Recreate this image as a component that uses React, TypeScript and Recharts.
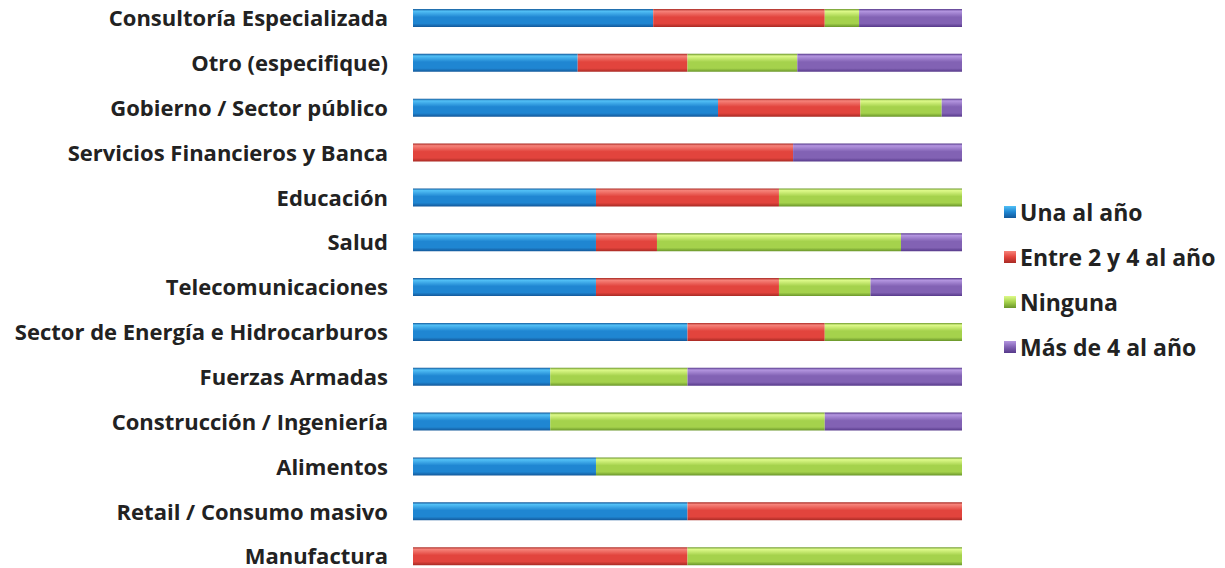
import { BarChart, Bar, XAxis, YAxis, Legend } from 'recharts'

// Sectors, top to bottom
const sectors = [
  'Consultoría Especializada',
  'Otro (especifique)',
  'Gobierno / Sector público',
  'Servicios Financieros y Banca',
  'Educación',
  'Salud',
  'Telecomunicaciones',
  'Sector de Energía e Hidrocarburos',
  'Fuerzas Armadas',
  'Construcción / Ingeniería',
  'Alimentos',
  'Retail / Consumo masivo',
  'Manufactura',
]

// Share of answers per sector (%)
const unaAlAno = [43.75, 30, 55.56, 0, 33.33, 33.33, 33.33, 50, 25, 25, 33.33, 50, 0]
const entre2y4 = [31.25, 20, 25.93, 69.23, 33.33, 11.11, 33.33, 25, 0, 0, 0, 50, 50]
const ninguna = [6.25, 20, 14.81, 0, 33.34, 44.45, 16.67, 25, 25, 50, 66.67, 0, 50]
const masDe4 = [18.75, 30, 3.7, 30.77, 0, 11.11, 16.67, 0, 50, 25, 0, 0, 0]

const series = [
  { key: 'una', name: 'Una al año', values: unaAlAno, top: '#52c0f6', mid: '#1f86d2', bot: '#13589a' },
  { key: 'entre', name: 'Entre 2 y 4 al año', values: entre2y4, top: '#f6837a', mid: '#e2443d', bot: '#a82a24' },
  { key: 'ninguna', name: 'Ninguna', values: ninguna, top: '#defa8a', mid: '#a5d24c', bot: '#69952a' },
  { key: 'mas', name: 'Más de 4 al año', values: masDe4, top: '#b496e0', mid: '#8262b4', bot: '#56398a' },
]

const data = sectors.map((sector, i) => {
  const row: Record<string, string | number> = { sector }
  series.forEach((s) => {
    row[s.key] = s.values[i]
  })
  return row
})

const font = '"Open Sans", sans-serif'

function LegendContent() {
  return (
    <div style={{ fontFamily: font, fontWeight: 700, fontSize: 23, color: '#222', whiteSpace: 'nowrap' }}>
      {series.map((s) => (
        <div key={s.key} style={{ display: 'flex', alignItems: 'center', height: 45 }}>
          <span
            style={{
              width: 12,
              height: 12,
              marginRight: 4,
              flexShrink: 0,
              background: `linear-gradient(${s.top}, ${s.mid} 50%, ${s.bot})`,
            }}
          />
          {s.name}
        </div>
      ))}
    </div>
  )
}

export default function App() {
  return (
    <div style={{ position: 'absolute', left: 0, top: -5, background: '#fff' }}>
      <BarChart
        width={1225}
        height={590}
        data={data}
        layout="vertical"
        margin={{ top: 1, right: 42, left: 0, bottom: 6 }}
        barSize={18}
      >
        <defs>
          {series.map((s) => (
            <linearGradient key={s.key} id={`grad-${s.key}`} x1="0" y1="0" x2="0" y2="1">
              <stop offset="0%" stopColor={s.bot} />
              <stop offset="12%" stopColor={s.top} />
              <stop offset="45%" stopColor={s.mid} />
              <stop offset="80%" stopColor={s.mid} />
              <stop offset="100%" stopColor={s.bot} />
            </linearGradient>
          ))}
        </defs>
        <XAxis type="number" domain={[0, 100]} hide />
        <YAxis
          type="category"
          dataKey="sector"
          width={413}
          axisLine={false}
          tickLine={false}
          tickSize={0}
          tickMargin={25}
          interval={0}
          tick={{ fontSize: 22, fontWeight: 700, fill: '#222', fontFamily: font }}
        />
        <Legend
          layout="vertical"
          align="right"
          verticalAlign="top"
          content={<LegendContent />}
          wrapperStyle={{ left: 1004, top: 194, width: 221 }}
        />
        {series.map((s) => (
          <Bar
            key={s.key}
            dataKey={s.key}
            name={s.name}
            stackId="a"
            fill={`url(#grad-${s.key})`}
            isAnimationActive={false}
          />
        ))}
      </BarChart>
    </div>
  )
}
